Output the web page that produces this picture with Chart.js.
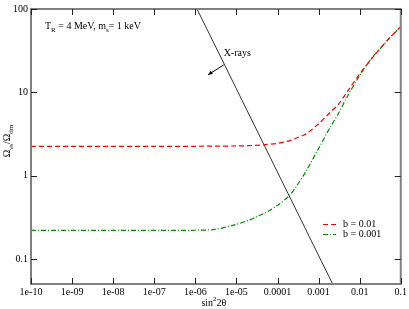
<!DOCTYPE html>
<html>
<head>
<meta charset="utf-8">
<script src="https://cdn.jsdelivr.net/npm/chart.js@4"></script>
<style>
  html, body { margin: 0; padding: 0; background: #fff; }
  canvas { display: block; }
</style>
</head>
<body>
<canvas id="chart" width="409" height="309"></canvas>
<script>
// tick marks and labels
const xTickValues = [1e-10, 1e-9, 1e-8, 1e-7, 1e-6, 1e-5, 1e-4, 1e-3, 1e-2, 0.1];
const xTickLabels = ["1e-10", "1e-09", "1e-08", "1e-07", "1e-06", "1e-05", "0.0001", "0.001", "0.01", "0.1"];
const yTickValues = [0.1, 1, 10, 100];
const yTickLabels = ["0.1", "1", "10", "100"];

// sin^2(2 theta) sample points
const sinSq = [1e-10, 1e-9, 1e-8, 1e-7, 1e-6, 3e-6, 1e-5, 2e-5, 3e-5, 5e-5, 1e-4, 2e-4, 3e-4, 5e-4,
  1e-3, 2e-3, 3e-3, 5e-3, 1e-2, 2e-2, 3e-2, 5e-2, 0.1];
// Omega_vs / Omega_dm
const ratioB001 = [2.25, 2.25, 2.25, 2.25, 2.25, 2.26, 2.27, 2.29, 2.31, 2.35, 2.44, 2.63, 2.85, 3.18,
  4.2, 5.85, 7.1, 10.2, 16.6, 25.7, 32.6, 43.5, 61.5];
const ratioB0001 = [0.22, 0.22, 0.22, 0.22, 0.221, 0.226, 0.26, 0.292, 0.319, 0.357, 0.438, 0.585, 0.766, 1.14,
  2.12, 3.95, 5.5, 8.9, 15.9, 26.2, 32.4, 43.3, 61.5];

// X-ray bound
const xrayX = [1.1e-6, 2.2e-3];
const xrayY = [100, 0.05];

// annotation anchors (data units)
const xrayLabel = { x: 4.9e-6, y: 29.5, text: "X-rays" };
const xrayArrow = { x0: 4.9e-6, y0: 21.3, x1: 2.03e-6, y1: 16.2 };

const serif = '"Liberation Serif", "Times New Roman", serif';

const toPoints = (xs, ys) => xs.map((v, i) => ({ x: v, y: ys[i] }));

const overlay = {
  id: "overlay",
  afterDatasetsDraw(chart) {
    const { ctx, chartArea: a, scales: { x, y } } = chart;
    ctx.save();

    // frame
    ctx.strokeStyle = "#808080";
    ctx.lineWidth = 2;
    ctx.strokeRect(a.left, a.top, a.right - a.left, a.bottom - a.top);

    // inward ticks on all four sides
    ctx.strokeStyle = "#222";
    ctx.lineWidth = 1;
    ctx.beginPath();
    xTickValues.forEach((v) => {
      const px = Math.round(x.getPixelForValue(v)) + 0.5;
      ctx.moveTo(px, a.bottom); ctx.lineTo(px, a.bottom - 6);
      ctx.moveTo(px, a.top); ctx.lineTo(px, a.top + 6);
    });
    yTickValues.forEach((v) => {
      const py = Math.round(y.getPixelForValue(v)) + 0.5;
      ctx.moveTo(a.left, py); ctx.lineTo(a.left + 6, py);
      ctx.moveTo(a.right, py); ctx.lineTo(a.right - 6, py);
    });
    ctx.stroke();

    ctx.fillStyle = "#000";
    ctx.textBaseline = "alphabetic";

    // text with sub/superscripts
    const runs = (parts, sx, sy) => {
      let cx = sx;
      parts.forEach(([t, kind]) => {
        const size = kind ? 7 : 10;
        ctx.font = size + "px " + serif;
        const dy = kind === "sub" ? 3 : kind === "sup" ? -5 : 0;
        ctx.fillText(t, cx, sy + dy);
        cx += ctx.measureText(t).width;
      });
      return cx - sx;
    };
    const measure = (parts) => parts.reduce((w, [t, kind]) => {
      ctx.font = (kind ? 7 : 10) + "px " + serif;
      return w + ctx.measureText(t).width;
    }, 0);
    ctx.textAlign = "left";
    runs([["T"], ["R", "sub"], [" = 4 MeV, m"], ["s", "sub"], ["= 1 keV"]], 45, 29);

    // x axis title
    const xt = [["sin"], ["2", "sup"], ["2\u03b8"]];
    runs(xt, (a.left + a.right) / 2 - measure(xt) / 2 - 2, 306);

    // y axis title
    const yt = [["\u03a9"], ["\u03bds", "sub"], ["/\u03a9"], ["dm", "sub"]];
    ctx.save();
    ctx.translate(10, 141);
    ctx.rotate(-Math.PI / 2);
    runs(yt, -measure(yt) / 2, 0);
    ctx.restore();

    // X-rays label and arrow
    ctx.font = "10px " + serif;
    ctx.textBaseline = "middle";
    ctx.fillText(xrayLabel.text, x.getPixelForValue(xrayLabel.x), y.getPixelForValue(xrayLabel.y));
    const ax0 = x.getPixelForValue(xrayArrow.x0), ay0 = y.getPixelForValue(xrayArrow.y0);
    const ax1 = x.getPixelForValue(xrayArrow.x1), ay1 = y.getPixelForValue(xrayArrow.y1);
    ctx.strokeStyle = "#000";
    ctx.beginPath();
    ctx.moveTo(ax0, ay0); ctx.lineTo(ax1, ay1);
    ctx.stroke();
    const ang = Math.atan2(ay1 - ay0, ax1 - ax0);
    ctx.beginPath();
    ctx.moveTo(ax1, ay1);
    ctx.lineTo(ax1 - 5 * Math.cos(ang - 0.4), ay1 - 5 * Math.sin(ang - 0.4));
    ctx.lineTo(ax1 - 5 * Math.cos(ang + 0.4), ay1 - 5 * Math.sin(ang + 0.4));
    ctx.closePath();
    ctx.fill();

    // legend
    const legendItems = chart.data.datasets.filter((d) => d.label);
    legendItems.forEach((d, i) => {
      const ly = 224.5 + i * 10;
      ctx.strokeStyle = d.borderColor;
      ctx.lineWidth = d.borderWidth;
      ctx.setLineDash(d.borderDash);
      ctx.beginPath();
      ctx.moveTo(323, ly); ctx.lineTo(336, ly);
      ctx.stroke();
      ctx.setLineDash([]);
      ctx.fillStyle = "#000";
      ctx.font = "10px " + serif;
      ctx.fillText(d.label, 343, ly);
    });

    ctx.restore();
  },
};

new Chart(document.getElementById("chart"), {
  type: "scatter",
  data: {
    datasets: [
      {
        label: "b = 0.01",
        data: toPoints(sinSq, ratioB001),
        showLine: true,
        borderColor: "#ff0000",
        borderWidth: 1.2,
        borderDash: [5, 3],
        pointRadius: 0,
        tension: 0.3,
      },
      {
        label: "b = 0.001",
        data: toPoints(sinSq, ratioB0001),
        showLine: true,
        borderColor: "#008b00",
        borderWidth: 1.2,
        borderDash: [5, 2, 1, 2],
        pointRadius: 0,
        tension: 0.3,
      },
      {
        data: toPoints(xrayX, xrayY),
        showLine: true,
        borderColor: "#333",
        borderWidth: 1,
        pointRadius: 0,
      },
    ],
  },
  options: {
    responsive: false,
    animation: false,
    devicePixelRatio: 1,
    layout: { padding: { top: 4, right: 6, left: 0, bottom: 0 } },
    plugins: { legend: { display: false }, tooltip: { enabled: false } },
    scales: {
      x: {
        type: "logarithmic",
        min: 1e-10,
        max: 0.1,
        afterBuildTicks: (s) => { s.ticks = xTickValues.map((v) => ({ value: v })); },
        afterFit: (s) => { s.height = 25; },
        ticks: {
          callback: (v, i) => xTickLabels[i],
          autoSkip: false,
          maxRotation: 0,
          padding: 2,
          color: "#000",
          font: { family: serif, size: 10 },
        },
        grid: { display: false, drawTicks: false },
        border: { display: false },
      },
      y: {
        type: "logarithmic",
        min: 0.05,
        max: 100,
        afterBuildTicks: (s) => { s.ticks = yTickValues.map((v) => ({ value: v })); },
        afterFit: (s) => { s.width = 31; },
        ticks: {
          callback: (v, i) => yTickLabels[i],
          autoSkip: false,
          padding: 3,
          color: "#000",
          font: { family: serif, size: 10 },
        },
        grid: { display: false, drawTicks: false },
        border: { display: false },
      },
    },
  },
  plugins: [overlay],
});
</script>
</body>
</html>
